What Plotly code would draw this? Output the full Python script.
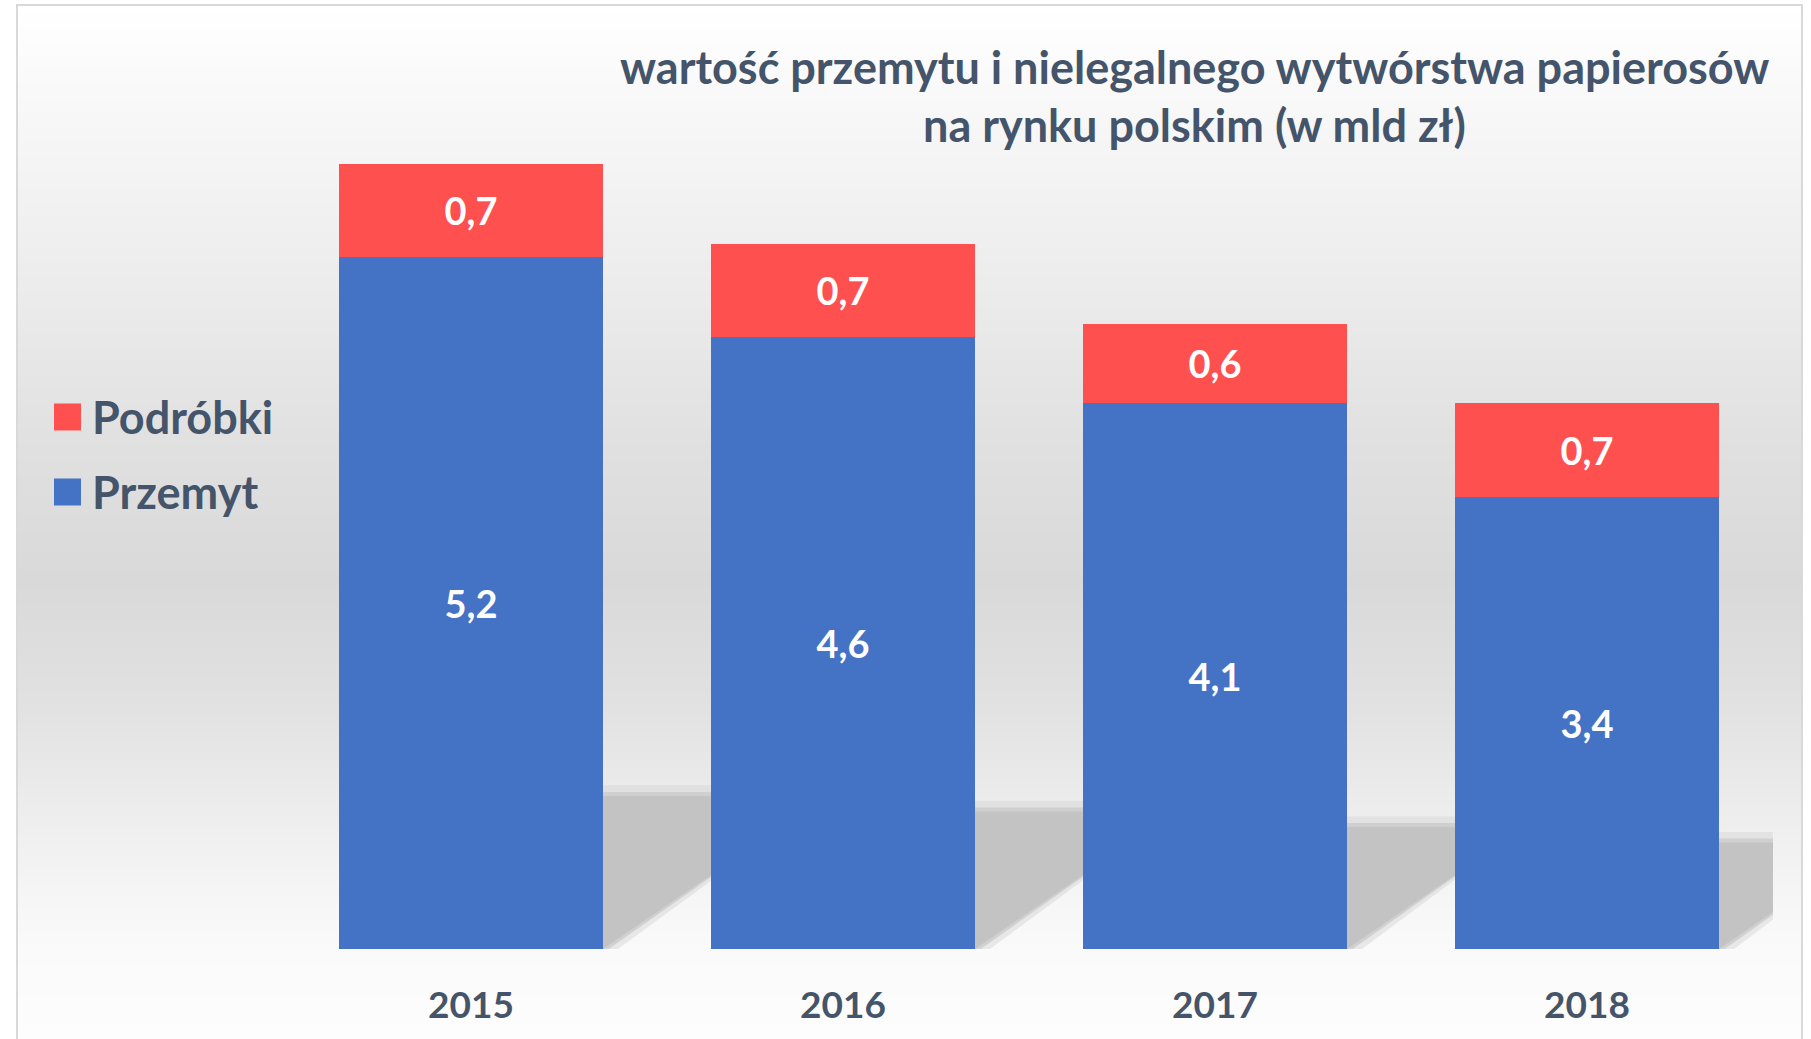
import base64, struct, zlib
import plotly.graph_objects as go

years = ["2015", "2016", "2017", "2018"]
przemyt = [5.2, 4.6, 4.1, 3.4]
podrobki = [0.7, 0.7, 0.6, 0.7]
series_names = ["Przemyt", "Podróbki"]
title_lines = ["wartość przemytu i nielegalnego wytwórstwa papierosów", "na rynku polskim (w mld zł)"]

BLUE = "#4472C4"
RED = "#FF5050"
TXT = "#44546A"
FONT = "Lato"

W, H = 1811, 1039
ML, MR, MT, MB = 285, 38, 84, 90
PW = W - ML - MR
PH = H - MT - MB
YMAX = 6.5
NCAT = len(years)


def px_to_paper_x(p):
    return (p - ML) / PW


def px_to_paper_y(p):
    return (H - MB - p) / PH


# background gradient (pixel row -> grey level)
stops = [(5, 255), (150, 245), (300, 235), (450, 224), (580, 217), (700, 225),
         (800, 236), (900, 246), (950, 250), (1039, 253)]


def grey_at(y):
    for (y0, g0), (y1, g1) in zip(stops, stops[1:]):
        if y0 <= y <= y1:
            t = (y - y0) / (y1 - y0)
            return int(round(g0 + (g1 - g0) * t))
    return stops[-1][1]


rows = list(range(5, H + 1))
raw = b"".join(b"\x00" + bytes([grey_at(y)]) for y in rows)


def chunk(tag, data):
    c = tag + data
    return struct.pack(">I", len(data)) + c + struct.pack(">I", zlib.crc32(c) & 0xffffffff)


png = (b"\x89PNG\r\n\x1a\n" + chunk(b"IHDR", struct.pack(">IIBBBBB", 1, len(rows), 8, 0, 0, 0, 0))
       + chunk(b"IDAT", zlib.compress(raw)) + chunk(b"IEND", b""))
img_uri = "data:image/png;base64," + base64.b64encode(png).decode()

label_font = dict(family=FONT, size=38, color="white", weight="bold")
fig = go.Figure()
fig.add_trace(go.Bar(x=years, y=przemyt, name=series_names[0], marker=dict(color=BLUE, line=dict(width=0)),
                     texttemplate="%{y:.1f}", textposition="inside", insidetextanchor="middle",
                     textfont=label_font, showlegend=False))
fig.add_trace(go.Bar(x=years, y=podrobki, name=series_names[1], marker=dict(color=RED, line=dict(width=0)),
                     texttemplate="%{y:.1f}", textposition="inside", insidetextanchor="middle",
                     textfont=label_font, showlegend=False))

shapes = []
# perspective shadows derived from bar totals
half = 0.355
for i, (a, b) in enumerate(zip(przemyt, podrobki)):
    tot = a + b
    h = 0.195 * tot
    s = 1.46 * h * (PH / YMAX) / (PW / NCAT)
    for grow, col, op in [(0.04, "#d6d6d6", 0.5), (0.015, "#cbcbcb", 0.8), (0.0, "#c3c3c3", 1.0)]:
        hh = h + grow * 2
        path = (f"M {i - half},0 L {i + half + grow},0 L {i + half + grow + s},{hh} "
                f"L {i - half + s},{hh} Z")
        shapes.append(dict(type="path", path=path, xref="x", yref="y", fillcolor=col,
                           line=dict(width=0), layer="below", opacity=op))

# frame
shapes.append(dict(type="rect", xref="paper", yref="paper", x0=px_to_paper_x(17), x1=px_to_paper_x(1802),
                   y0=px_to_paper_y(1060), y1=px_to_paper_y(5), line=dict(color="#d9d9d9", width=2),
                   fillcolor="rgba(0,0,0,0)", layer="above"))

# legend (manual)
legend_items = [(series_names[1], RED, 417), (series_names[0], BLUE, 492)]
annotations = []
for name, col, yc in legend_items:
    shapes.append(dict(type="rect", xref="paper", yref="paper", x0=px_to_paper_x(54), x1=px_to_paper_x(81),
                       y0=px_to_paper_y(yc + 13.5), y1=px_to_paper_y(yc - 13.5), fillcolor=col,
                       line=dict(width=0)))
    annotations.append(dict(text=name, xref="paper", yref="paper", x=px_to_paper_x(90), y=px_to_paper_y(yc),
                            xanchor="left", yanchor="middle", showarrow=False,
                            font=dict(family=FONT, size=45, color=TXT, weight="bold")))

for line, yc in zip(title_lines, [67, 125]):
    annotations.append(dict(text=line, xref="paper", yref="paper", x=px_to_paper_x(1194), y=px_to_paper_y(yc),
                            xanchor="center", yanchor="middle", showarrow=False,
                            font=dict(family=FONT, size=45, color=TXT, weight="bold")))

fig.update_layout(
    width=W, height=H, barmode="stack", bargap=0.29,
    margin=dict(l=ML, r=MR, t=MT, b=MB, autoexpand=False),
    paper_bgcolor="white", plot_bgcolor="rgba(0,0,0,0)",
    separators=", ", showlegend=False,
    images=[dict(source=img_uri, xref="paper", yref="paper", x=px_to_paper_x(17), y=px_to_paper_y(5),
                 sizex=px_to_paper_x(1802) - px_to_paper_x(17), sizey=px_to_paper_y(5) - px_to_paper_y(H),
                 xanchor="left", yanchor="top", sizing="stretch", layer="below")],
    shapes=shapes, annotations=annotations,
)
fig.update_xaxes(range=[-0.5, NCAT - 0.5], showgrid=False, zeroline=False, showline=False,
                 ticks="outside", ticklen=24, tickcolor="rgba(0,0,0,0)",
                 tickfont=dict(family=FONT, size=37, color=TXT, weight="bold"))
fig.update_yaxes(visible=False, range=[0, YMAX])

fig.write_html("out.html", config={"displayModeBar": False},
               post_script="document.body.style.margin='0';document.body.style.overflow='hidden';")
